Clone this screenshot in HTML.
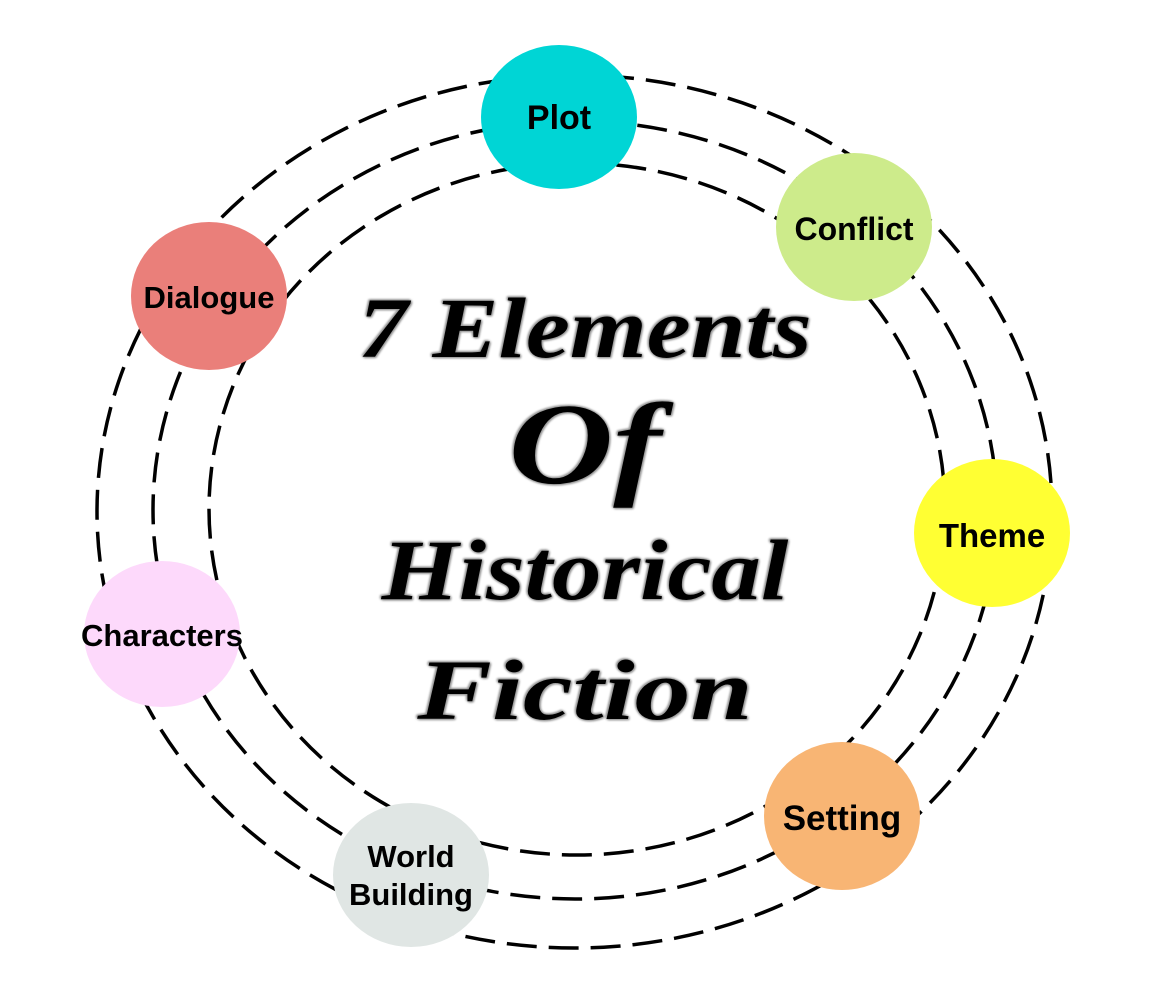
<!DOCTYPE html>
<html><head><meta charset="utf-8"><style>
html,body{margin:0;padding:0;background:#fff;}
body{width:1150px;height:1004px;position:relative;overflow:hidden;font-family:"Liberation Sans",sans-serif;}
svg{position:absolute;left:0;top:0;}
.t{position:absolute;left:335px;width:500px;text-align:center;font-family:"Liberation Serif",serif;font-weight:bold;font-style:italic;font-size:86px;line-height:100px;color:#000;
text-shadow:0 0 2px #999,0 0 3px #aaa,1px 1px 2px #888,-1px -1px 2px #888;}
</style></head><body>
<svg width="1150" height="1004">
<g fill="none" stroke="#000" stroke-width="3.5" stroke-dasharray="30 12">
<ellipse cx="574.5" cy="511.5" rx="477.5" ry="436.5"/>
<ellipse cx="575" cy="510" rx="422" ry="389"/>
<ellipse cx="577" cy="509" rx="368" ry="346"/>
</g>
<g font-family="Liberation Sans" font-weight="bold" text-anchor="middle" fill="#000">
<ellipse cx="559" cy="117" rx="78" ry="72" fill="#00d5d5"/>
<text x="559" y="129" font-size="34">Plot</text>
<ellipse cx="854" cy="227" rx="78" ry="74" fill="#cdeb8b"/>
<text x="854" y="240" font-size="32">Conflict</text>
<ellipse cx="209" cy="296" rx="78" ry="74" fill="#ea7f7a"/>
<text x="209" y="308" font-size="31">Dialogue</text>
<ellipse cx="992" cy="533" rx="78" ry="74" fill="#ffff33"/>
<text x="992" y="547" font-size="33">Theme</text>
<ellipse cx="162" cy="634" rx="78" ry="73" fill="#fdd9fb"/>
<text x="162" y="646" font-size="31">Characters</text>
<ellipse cx="842" cy="816" rx="78" ry="74" fill="#f8b574"/>
<text x="842" y="830" font-size="35">Setting</text>
<ellipse cx="411" cy="875" rx="78" ry="72" fill="#e0e6e4"/>
<text x="411" y="867" font-size="31">World</text>
<text x="411" y="905" font-size="31">Building</text>
</g>
</svg>
<div class="t" style="top:278px;transform:scaleX(1.15);">7 Elements</div>
<div class="t" style="top:395px;font-size:116px;transform:scaleX(1.25);">Of</div>
<div class="t" style="top:520px;transform:scaleX(1.15);">Historical</div>
<div class="t" style="top:640px;transform:scaleX(1.3);">Fiction</div>
</body></html>
